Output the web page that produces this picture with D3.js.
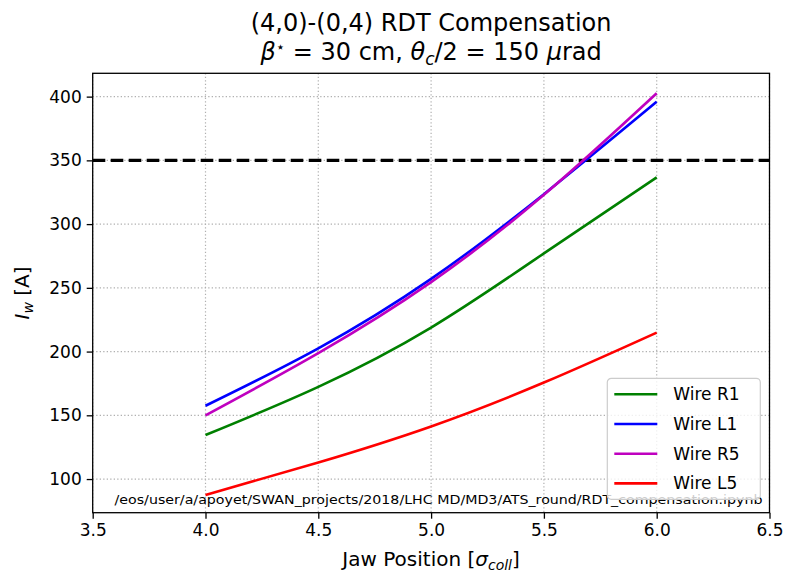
<!DOCTYPE html>
<html>
<head>
<meta charset="utf-8">
<script src="https://cdn.jsdelivr.net/npm/d3@7"></script>
<style>
  body { margin: 0; background: #fff; }
  text { font-family: "DejaVu Sans", sans-serif; }
</style>
</head>
<body>
<div id="chart"></div>
<script>
// data
const jawPos = [4.0, 4.5, 5.0, 5.5, 6.0];
const wireR1 = [134.5, 172.3, 218.8, 277.0, 336.6];
const wireL1 = [157.5, 202.5, 257.0, 323.5, 396.0];
const wireR5 = [150.0, 198.8, 254.5, 323.0, 402.7];
const wireL5 = [87.5, 113.0, 141.3, 175.7, 214.9];
const seriesNames = ["Wire R1", "Wire L1", "Wire R5", "Wire L5"];
const seriesColors = ["#008000", "#0000ff", "#bf00bf", "#ff0000"];
const limitValue = 350;
const xTicks = [3.5, 4.0, 4.5, 5.0, 5.5, 6.0, 6.5];
const yTicks = [100, 150, 200, 250, 300, 350, 400];
const notePath = "/eos/user/a/apoyet/SWAN_projects/2018/LHC MD/MD3/ATS_round/RDT_compensation.ipynb";

const W = 785, H = 574;
const margin = {top: 73.3, right: 785 - 769.5, bottom: 574 - 512.7, left: 92.7};
const width = W - margin.left - margin.right,
      height = H - margin.top - margin.bottom;

const root = d3.select("#chart").append("svg")
    .attr("width", W)
    .attr("height", H);

const svg = root.append("g")
    .attr("transform", `translate(${margin.left},${margin.top})`);

const x = d3.scaleLinear().domain([3.5, 6.5]).range([0, width]);
const y = d3.scaleLinear().domain([73.6, 418.3]).range([height, 0]);

// grid
svg.append("g").selectAll("line")
  .data(xTicks)
  .join("line")
    .attr("x1", d => x(d)).attr("x2", d => x(d))
    .attr("y1", 0).attr("y2", height)
    .attr("stroke", "#b0b0b0").attr("stroke-width", 1.2)
    .attr("stroke-dasharray", "1.3,2.2");
svg.append("g").selectAll("line")
  .data(yTicks)
  .join("line")
    .attr("x1", 0).attr("x2", width)
    .attr("y1", d => y(d)).attr("y2", d => y(d))
    .attr("stroke", "#b0b0b0").attr("stroke-width", 1.2)
    .attr("stroke-dasharray", "1.3,2.2");

// limit line
svg.append("line")
    .attr("x1", 0).attr("x2", width)
    .attr("y1", y(limitValue)).attr("y2", y(limitValue))
    .attr("stroke", "#000").attr("stroke-width", 3.3)
    .attr("stroke-dasharray", "12.6,5.4");

// curves
const allSeries = [wireR1, wireL1, wireR5, wireL5];
const line = d3.line()
    .x((d, i) => x(jawPos[i]))
    .y(d => y(d))
    .curve(d3.curveNatural);

svg.append("g").selectAll("path")
  .data(allSeries)
  .join("path")
    .attr("d", d => line(d))
    .attr("fill", "none")
    .attr("stroke", (d, i) => seriesColors[i])
    .attr("stroke-width", 2.6);

// file path note
svg.append("text")
    .attr("x", 114.5 - margin.left)
    .attr("y", 504 - margin.top)
    .style("font-size", "12px")
    .attr("textLength", 648)
    .attr("lengthAdjust", "spacingAndGlyphs")
    .text(notePath);

// axes
const xAxis = svg.append("g")
    .attr("transform", `translate(0,${height})`)
    .call(d3.axisBottom(x).tickValues(xTicks).tickFormat(d3.format(".1f")).tickSizeOuter(0).tickSize(6).tickPadding(5));
const yAxis = svg.append("g")
    .call(d3.axisLeft(y).tickValues(yTicks).tickSizeOuter(0).tickSize(6).tickPadding(5));
[xAxis, yAxis].forEach(a => {
  a.select(".domain").remove();
  a.selectAll(".tick line").attr("stroke", "#000").attr("stroke-width", 1.3);
  a.selectAll(".tick text").style("font-size", "17px").attr("fill", "#000")
    .style("font-family", "DejaVu Sans, sans-serif");
});

// frame
svg.append("rect")
    .attr("width", width).attr("height", height)
    .attr("fill", "none").attr("stroke", "#000").attr("stroke-width", 1.3);

// legend
const leg = svg.append("g")
    .attr("transform", `translate(${607.3 - margin.left},${378.3 - margin.top})`);
leg.append("rect")
    .attr("width", 153).attr("height", 121)
    .attr("rx", 4)
    .attr("fill", "#fff").attr("fill-opacity", 0.8)
    .attr("stroke", "#cccccc").attr("stroke-width", 1.2);
const rows = leg.selectAll("g.row")
  .data(seriesNames)
  .join("g")
    .attr("class", "row")
    .attr("transform", (d, i) => `translate(0,${16 + i * 29.7})`);
rows.append("line")
    .attr("x1", 7).attr("x2", 50)
    .attr("stroke", (d, i) => seriesColors[i])
    .attr("stroke-width", 2.6);
rows.append("text")
    .attr("x", 66).attr("y", 6)
    .style("font-size", "17px")
    .text(d => d);

// titles
const cx = margin.left + width / 2;
root.append("text")
    .attr("x", cx).attr("y", 31)
    .attr("text-anchor", "middle")
    .style("font-size", "24px")
    .text("(4,0)-(0,4) RDT Compensation");
const t2 = root.append("text")
    .attr("x", cx).attr("y", 60)
    .attr("text-anchor", "middle")
    .style("font-size", "24px");
t2.append("tspan").style("font-style", "italic").text("β");
t2.append("tspan").attr("dy", -8).style("font-size", "15px").text("⋆");
t2.append("tspan").attr("dy", 8).text(" = 30 cm, ");
t2.append("tspan").style("font-style", "italic").text("θ");
t2.append("tspan").attr("dy", 5).style("font-size", "17px").style("font-style", "italic").text("c");
t2.append("tspan").attr("dy", -5).text("/2 = 150 ");
t2.append("tspan").style("font-style", "italic").text("μ");
t2.append("tspan").text("rad");

// x label
const xl = root.append("text")
    .attr("x", cx).attr("y", 566)
    .attr("text-anchor", "middle")
    .style("font-size", "20px");
xl.append("tspan").text("Jaw Position [");
xl.append("tspan").style("font-style", "italic").text("σ");
xl.append("tspan").attr("dy", 4).style("font-size", "14px").style("font-style", "italic").text("coll");
xl.append("tspan").attr("dy", -4).text("]");

// y label
const yl = root.append("text")
    .attr("transform", `translate(29,${margin.top + height / 2}) rotate(-90)`)
    .attr("text-anchor", "middle")
    .style("font-size", "20px");
yl.append("tspan").style("font-style", "italic").text("I");
yl.append("tspan").attr("dy", 4).style("font-size", "14px").style("font-style", "italic").text("w");
yl.append("tspan").attr("dy", -4).text(" [A]");
</script>
</body>
</html>
